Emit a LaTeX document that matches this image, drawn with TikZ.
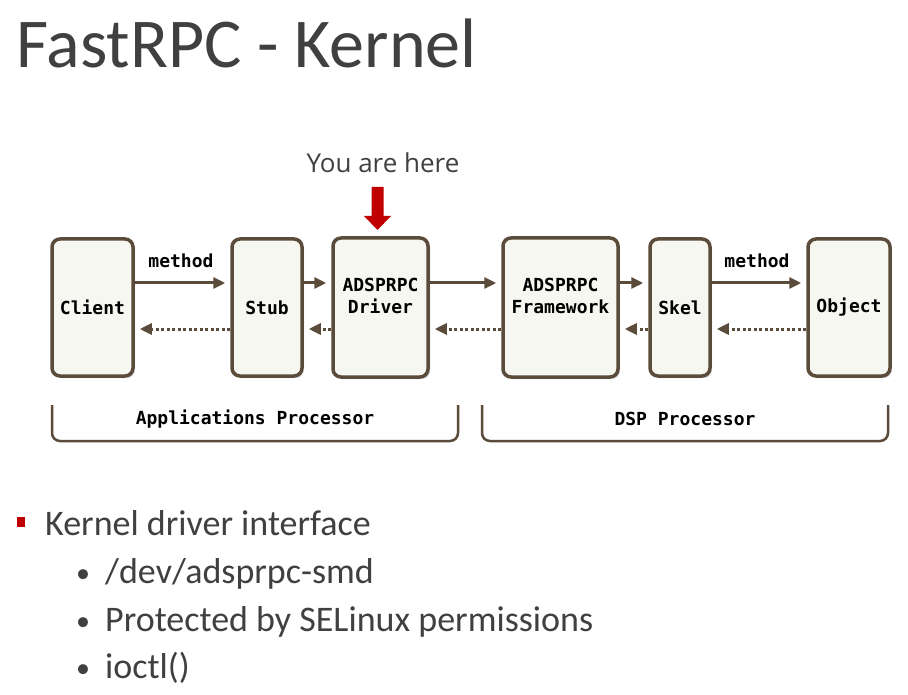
\documentclass[tikz,border=0pt]{standalone}
\usepackage{fontspec}
\setmainfont{Carlito}
\newfontfamily\monob{DejaVu Sans Mono}
\newfontfamily\opensans{Open Sans}
\usetikzlibrary{arrows.meta,shadows}
\definecolor{brn}{HTML}{5B4B3B}
\definecolor{cream}{HTML}{F7F7F1}
\definecolor{txtgray}{HTML}{404040}
\definecolor{redc}{HTML}{C00000}
\newcommand{\twoline}[2]{\raisebox{5pt}[0pt][0pt]{\begin{tabular}{@{}c@{}}#1\\#2\end{tabular}}}
\tikzset{
  box/.style={draw=brn, line width=3.5pt, fill=cream, rounded corners=8pt,
    inner sep=0pt, align=center, font=\monob\bfseries\fontsize{18}{22}\selectfont,
    drop shadow={opacity=0.3, shadow xshift=2pt, shadow yshift=-2pt}},
  fwd/.style={draw=brn, line width=3pt, -{Triangle[length=12pt,width=11pt]}, shorten >=5pt},
  bwd/.style={draw=brn, line width=3pt, dash pattern=on 3pt off 2.5pt, -{Triangle[length=12pt,width=11pt]}, shorten >=5pt},
  lbl/.style={font=\monob\bfseries\fontsize{18}{20}\selectfont, text=black},
  brk/.style={draw=brn, line width=2.5pt, rounded corners=8pt},
  bul/.style={anchor=base west, text=txtgray, font=\fontsize{36}{40}\selectfont, inner sep=0pt}
}
\begin{document}
\begin{tikzpicture}[x=1pt,y=-1pt]
\useasboundingbox[fill=white] (0,0) rectangle (908,695);
% title
\node[anchor=base west, inner sep=0pt, text=txtgray, font=\fontsize{70}{76}\selectfont] (title) at (16,68) {FastRPC - Kernel};
% boxes
\node[box, minimum width=81pt, minimum height=137pt] (client) at (92.5,307.5) {Client};
\node[box, minimum width=70pt, minimum height=137pt] (stub) at (267,307.5) {Stub};
\node[box, minimum width=95pt, minimum height=139pt] (driver) at (380.5,307.5) {\twoline{ADSPRPC}{Driver}};
\node[box, minimum width=115pt, minimum height=139pt] (fw) at (560.5,307.5) {\twoline{ADSPRPC}{Framework}};
\node[box, minimum width=60pt, minimum height=137pt] (skel) at (680,307.5) {Skel};
\node[box, minimum width=82pt, minimum height=137pt] (obj) at (849,307.5) {Object};
% forward arrows
\draw[fwd] (client.east |- 0,283) -- (stub.west |- 0,283);
\draw[fwd] (stub.east |- 0,283) -- (driver.west |- 0,283);
\draw[fwd] (driver.east |- 0,283) -- (fw.west |- 0,283);
\draw[fwd] (fw.east |- 0,283) -- (skel.west |- 0,283);
\draw[fwd] (skel.east |- 0,283) -- (obj.west |- 0,283);
% backward arrows
\draw[bwd] (stub.west |- 0,329) -- (client.east |- 0,329);
\draw[bwd] (driver.west |- 0,329) -- (stub.east |- 0,329);
\draw[bwd] (fw.west |- 0,329) -- (driver.east |- 0,329);
\draw[bwd] (skel.west |- 0,329) -- (fw.east |- 0,329);
\draw[bwd] (obj.west |- 0,329) -- (skel.east |- 0,329);
% method labels
\node[lbl] (m1) at (181,261) {method};
\node[lbl] (m2) at (757,261) {method};
% you are here
\node[text=txtgray, font=\opensans\fontsize{26}{30}\selectfont] (here) at (383,163) {You are here};
\fill[redc] (371.5,187) -- (383.5,187) -- (383.5,216) -- (391,216) -- (377.5,230) -- (364,216) -- (371.5,216) -- cycle;
% brackets
\draw[brk] (52,405) -- (52,441) -- (458,441) -- (458,405);
\draw[brk] (482,405) -- (482,441) -- (888,441) -- (888,405);
\node[lbl] (ap) at (255,419) {Applications Processor};
\node[lbl] (dsp) at (685,419) {DSP Processor};
% bullets
\fill[redc] (17,517) rectangle (25,527);
\node[bul] (b1) at (45,535) {Kernel driver interface};
\node[bul, font=\fontsize{28}{32}\selectfont] (d1) at (76,582) {•};
\node[bul] (b2) at (105,583) {/dev/adsprpc-smd};
\node[bul, font=\fontsize{28}{32}\selectfont] (d2) at (76,630) {•};
\node[bul] (b3) at (105,631) {Protected by SELinux permissions};
\node[bul, font=\fontsize{28}{32}\selectfont] (d3) at (76,677) {•};
\node[bul] (b4) at (105,678) {ioctl()};
\end{tikzpicture}
\end{document}
